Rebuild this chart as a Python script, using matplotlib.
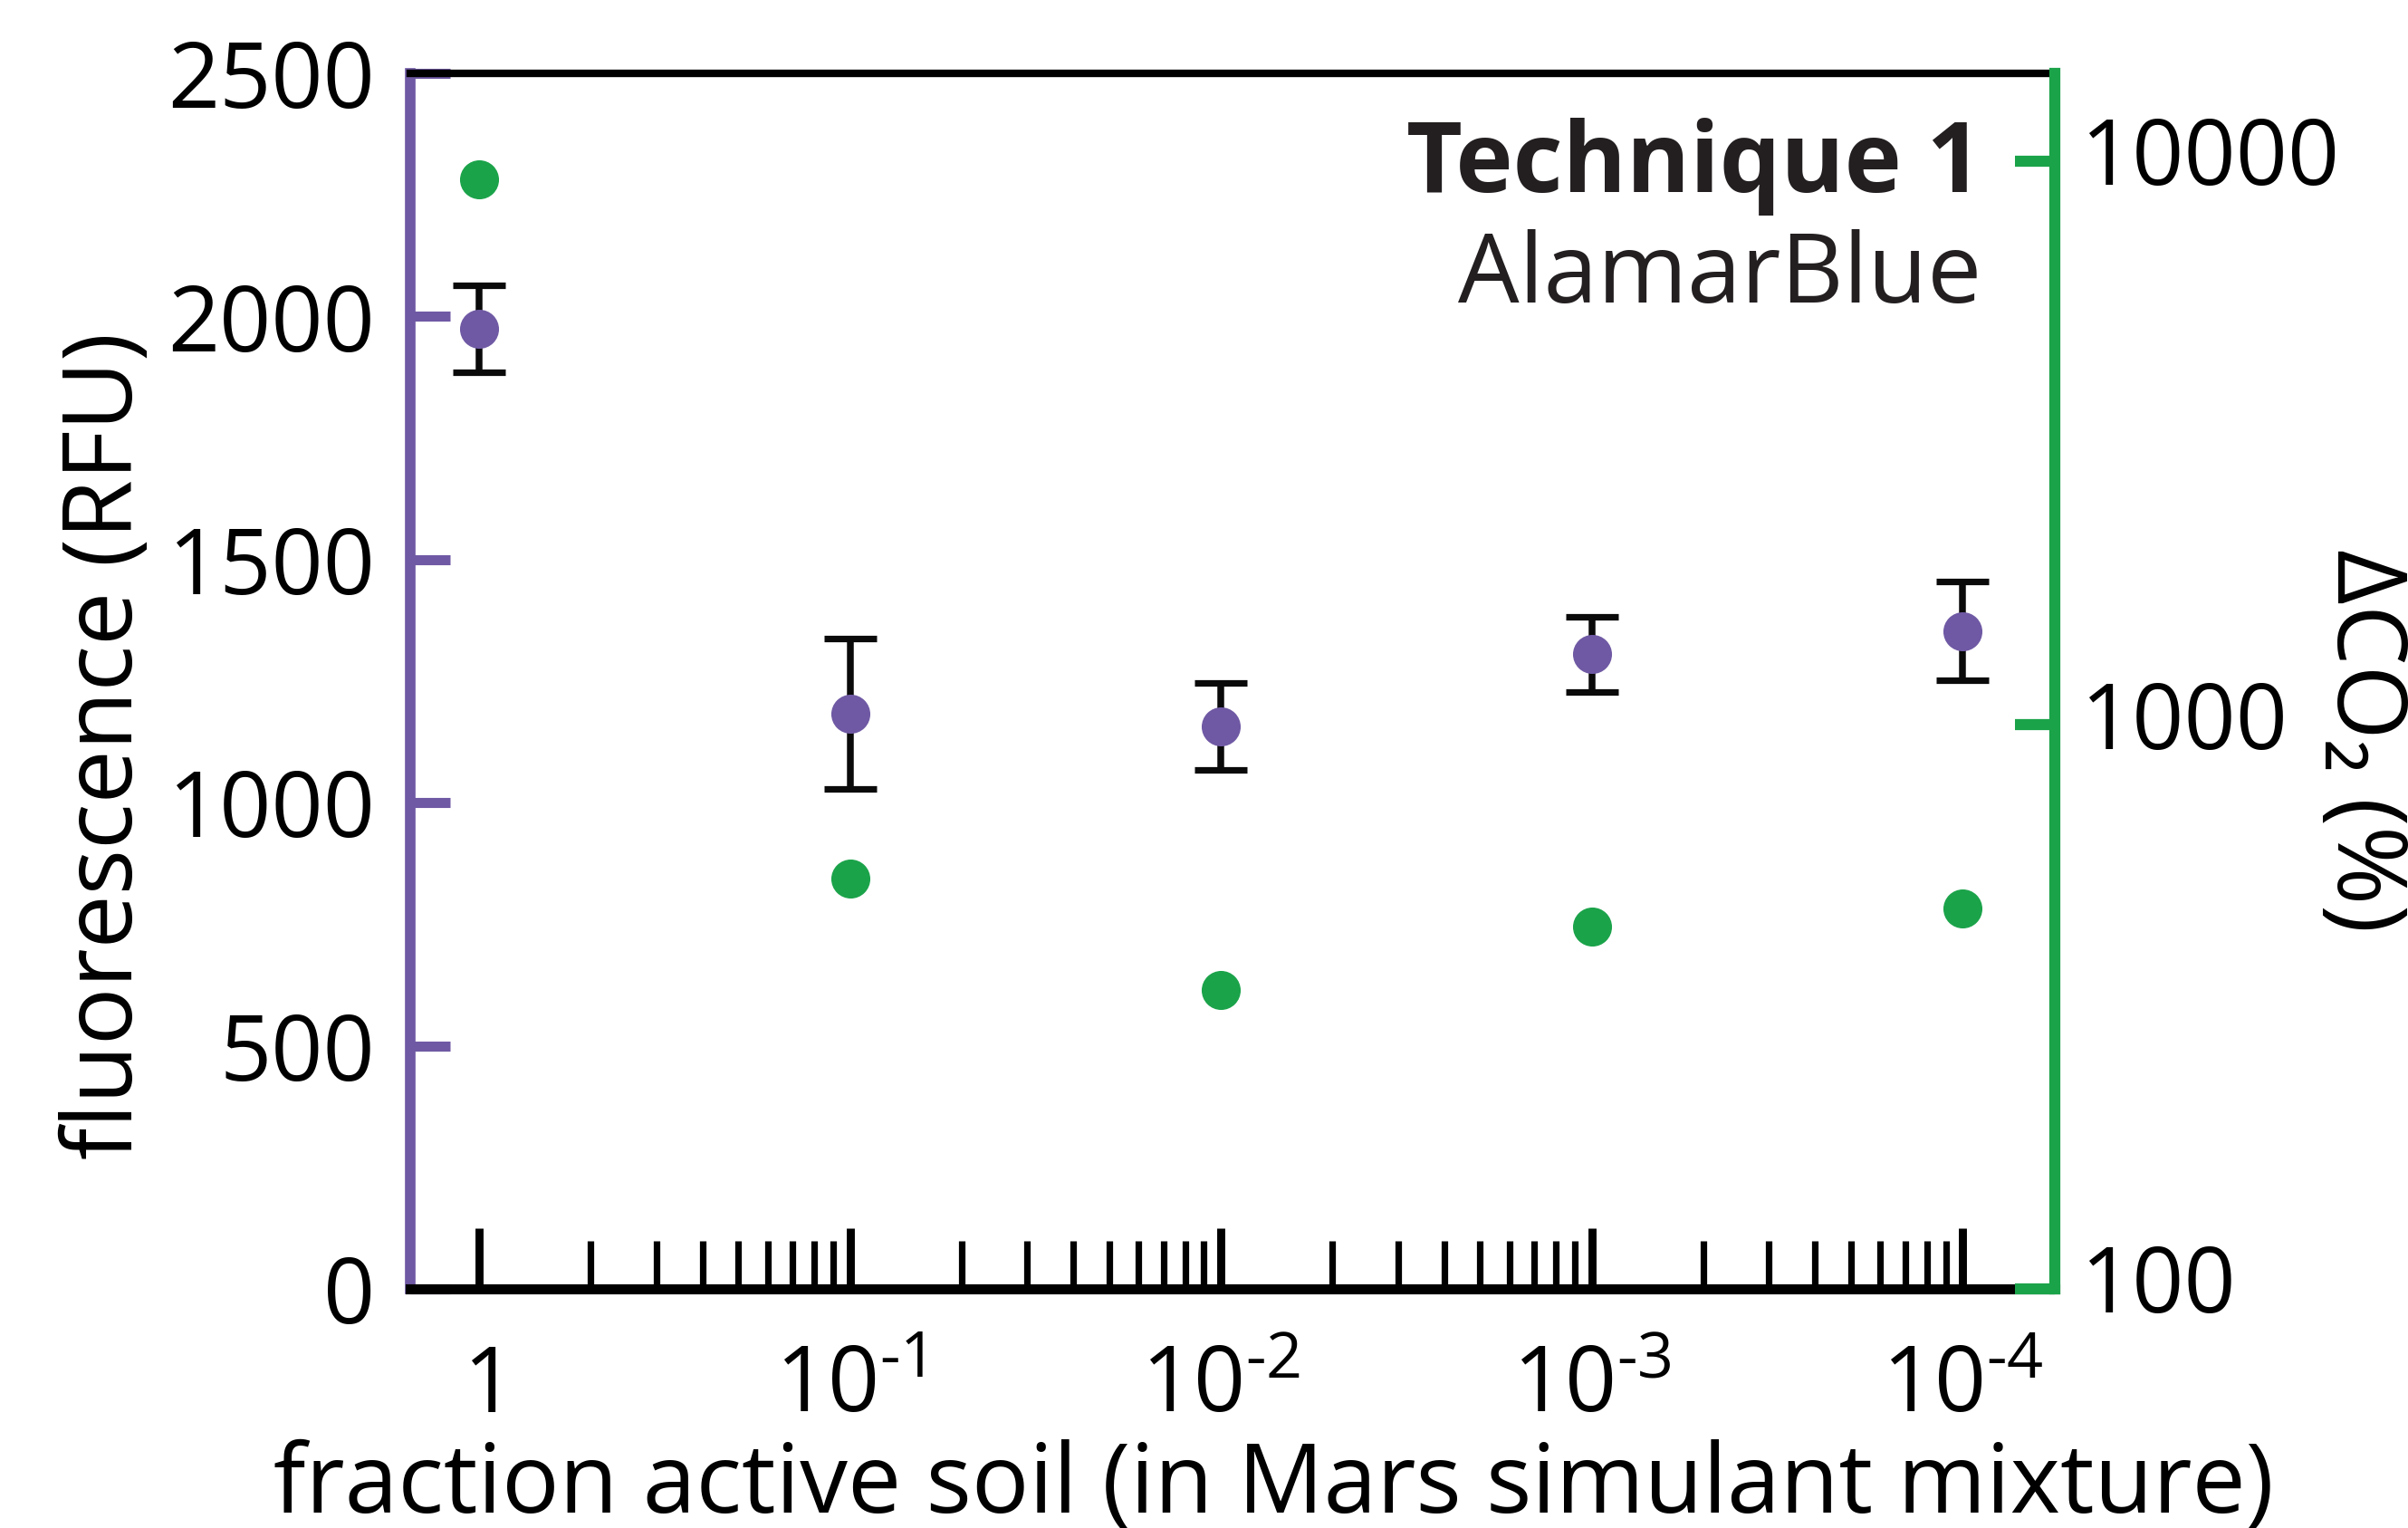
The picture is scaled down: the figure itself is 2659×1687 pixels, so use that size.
import numpy as np
import matplotlib.pyplot as plt
from matplotlib.ticker import FixedLocator, FixedFormatter, NullLocator, NullFormatter

plt.rcParams['font.family'] = ['Open Sans', 'DejaVu Sans']
plt.rcParams['mathtext.fontset'] = 'custom'
plt.rcParams['mathtext.rm'] = 'Open Sans'
plt.rcParams['mathtext.it'] = 'Open Sans'
plt.rcParams['mathtext.bf'] = 'Open Sans:bold'

# dilution factor (1 / fraction of active soil)
dilution = [1, 10, 100, 1000, 10000]
x_labels = [r'$1$', r'$10^{\text{-}1}$', r'$10^{\text{-}2}$', r'$10^{\text{-}3}$', r'$10^{\text{-}4}$']
minor_x = [m * 10 ** e for e in range(4) for m in range(2, 10)]

fluorescence = [1975, 1183, 1157, 1305, 1353]
fluorescence_err = [89, 154, 90, 78, 101]
delta_co2 = [9270, 533, 339, 439, 473]

left_ticks = [0, 500, 1000, 1500, 2000, 2500]
right_ticks = [100, 1000, 10000]
right_labels = ['100', '1000', '10000']

purple = '#6f59a4'
green = '#1ba34a'
ink = '#231f20'

fig = plt.figure(figsize=(13.295, 8.435), dpi=200)
ax = fig.add_axes([0.1704, 0.1565, 0.6830, 0.7955])
ax2 = ax.twinx()

ax.errorbar(dilution, fluorescence, yerr=fluorescence_err, fmt='none',
            ecolor='#0a0a0a', elinewidth=2.7, capsize=10.5, capthick=2.6, zorder=2)
ax.plot(dilution, fluorescence, 'o', ms=15.5, color=purple, mec='none', zorder=3)
ax2.plot(dilution, delta_co2, 'o', ms=15.5, color=green, mec='none', zorder=3)

ax.set_xscale('log')
ax.set_xlim(0.652, 17740)
ax.set_ylim(0, 2500)
ax2.set_yscale('log')
ax2.set_ylim(100, 14300)

ax.xaxis.set_major_locator(FixedLocator(dilution))
ax.xaxis.set_major_formatter(FixedFormatter(x_labels))
ax.xaxis.set_minor_locator(FixedLocator(minor_x))
ax.xaxis.set_minor_formatter(NullFormatter())
ax.yaxis.set_major_locator(FixedLocator(left_ticks))
ax2.yaxis.set_major_locator(FixedLocator(right_ticks))
ax2.yaxis.set_major_formatter(FixedFormatter(right_labels))
ax2.yaxis.set_minor_locator(NullLocator())

# spines
ax.spines['top'].set_color('black')
ax.spines['top'].set_linewidth(3.0)
ax.spines['bottom'].set_color('black')
ax.spines['bottom'].set_linewidth(4.0)
ax.spines['left'].set_color(purple)
ax.spines['left'].set_linewidth(4.2)
ax.spines['right'].set_visible(False)
for side in ['top', 'bottom', 'left']:
    ax2.spines[side].set_visible(False)
ax2.spines['right'].set_color(green)
ax2.spines['right'].set_linewidth(4.4)

ax.tick_params(axis='x', which='major', direction='in', length=24, width=3.2,
               labelsize=36, pad=49, top=False)
ax.tick_params(axis='x', which='minor', direction='in', length=19, width=2.6, top=False)
ax.tick_params(axis='y', direction='in', length=16, width=4.0, color=purple,
               labelsize=36, pad=14, right=False)
ax2.tick_params(axis='y', direction='in', length=16, width=4.4, color=green,
                labelsize=36, pad=10)
for lab in ax.get_xticklabels():
    lab.set_verticalalignment('baseline')
for lab in ax2.get_yticklabels():
    lab.set_verticalalignment('center')

ax.set_xlabel('fraction active soil (in Mars simulant mixture)', fontsize=38)
ax.xaxis.label.set_verticalalignment('baseline')
ax.xaxis.set_label_coords(0.5248, -0.184)

fig.text(146 / 2659, 1 - 823 / 1687, 'fluorescence (RFU)', fontsize=38,
         rotation=90, rotation_mode='anchor', ha='center', va='baseline')
fig.text(2581 / 2659, 1 - 818 / 1687, 'ΔCO₂ (%)', fontsize=38,
         rotation=270, rotation_mode='anchor', ha='center', va='baseline')

ax.text(0.9554, 0.9024, 'Technique 1', transform=ax.transAxes, ha='right',
        va='baseline', fontsize=38.5, fontweight='bold', color=ink)
ax.text(0.9554, 0.8115, 'AlamarBlue', transform=ax.transAxes, ha='right',
        va='baseline', fontsize=38.5, color=ink)

fig.savefig('out.png', dpi=200)
